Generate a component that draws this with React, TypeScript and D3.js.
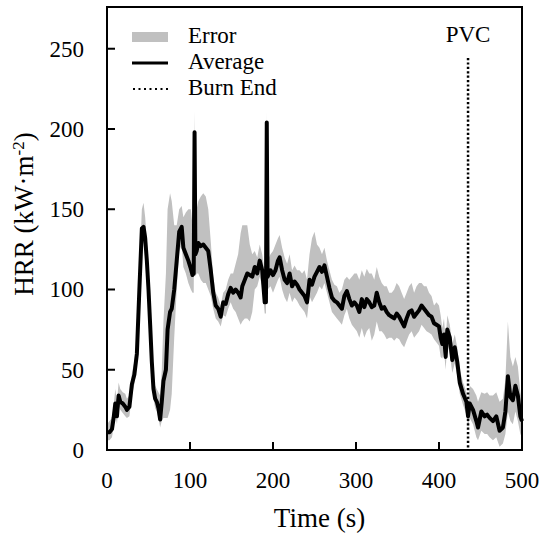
import React from "react";
import * as d3 from "d3";

const times = [0,3,6,8,10,12,14,16,19,22,24,27,30,33,36,39,42,44,46,48,50,52,54,56,58,60,62,64,66,68,71,73,76,78,81,84,87,90,92,95,98,101,103,104.5,105.5,106.5,108,110,113,116,119,122,125,128,131,134,137,140,143,146,149,152,155,158,161,163,166,169,172,175,178,181,184,187,190,191.5,192.5,193.5,197,200,203,206,208,211,214,217,220,223,226,229,232,235,238,241,244,247,250,253,256,259,262,265,268,271,274,277,280,283,286,289,292,295,298,301,304,307,310,313,316,319,322,325,328,331,334,337,340,343,346,349,352,355,358,361,364,367,370,373,376,379,382,385,388,391,394,397,400,402,404,406,408,410,413,416,419,422,425,429,433,435,437,441,445,447,451,455,458,461,465,469,473,477,480,483,486,489,492,495,498,500];
const average = [11,11,13,20,29,21,34,30,29,27,25,27,41,47,60,100,138,139,132,118,100,78,55,38,32,30,26,19,30,43,50,75,86,88,100,118,136,139,126,122,118,113,109,110,198,122,124,129,127,128,126,124,112,98,90,88,83,92,91,97,101,98,100,98,95,102,106,110,109,108,114,110,118,112,92,92,204,108,112,109,112,118,120,112,106,104,110,102,105,103,100,98,96,92,106,103,108,111,114,111,115,108,101,95,93,92,90,88,96,99,94,90,92,90,86,94,89,94,92,89,90,98,92,88,89,86,84,83,82,85,83,80,77,82,86,87,83,85,87,90,88,86,84,83,79,78,77,70,66,72,58,75,70,56,64,55,42,35,30,21,29,25,18,14,24,21,22,20,18,21,12,14,24,46,33,31,40,34,21,18];
const errorLow = [6,6,8,14,22,16,28,25,23,21,20,21,34,41,53,92,130,130,124,110,92,70,48,32,26,24,20,14,18,20,20,20,25,35,70,100,124,128,114,110,104,100,98,98,185,108,110,110,106,104,104,100,96,88,82,80,77,84,83,88,92,88,86,82,78,80,82,82,80,86,100,102,108,102,85,85,195,100,102,98,102,106,108,100,95,92,98,92,95,93,90,88,86,82,96,92,95,98,102,100,104,98,92,86,84,82,80,78,84,88,82,78,76,74,70,76,70,74,76,68,72,80,74,74,72,69,70,70,68,70,69,66,64,68,72,74,70,72,74,78,76,74,73,72,69,67,65,58,57,62,50,66,60,48,54,46,35,28,22,14,20,16,8,6,12,10,10,8,6,8,2,4,10,24,18,16,24,18,10,8];
const errorHigh = [16,18,20,28,38,30,42,38,36,35,32,34,48,55,70,112,150,154,145,130,112,88,64,46,40,38,36,34,50,80,110,150,160,155,140,140,150,152,145,148,150,150,140,140,211,150,150,155,158,160,158,150,130,108,98,95,90,98,100,106,110,110,116,122,135,140,140,140,128,122,124,120,128,122,110,110,211,118,122,124,128,132,134,126,120,116,122,112,115,112,112,110,112,106,122,132,136,128,126,122,126,118,112,106,103,102,98,100,106,108,106,108,110,110,106,112,108,113,110,110,106,114,108,104,102,102,98,98,100,104,102,98,94,98,102,104,98,102,104,104,102,102,98,96,90,92,90,84,76,82,68,84,78,66,72,64,50,42,36,30,40,38,34,30,36,35,36,34,34,36,30,32,44,80,58,52,58,52,36,30];

const xTicks = [0, 100, 200, 300, 400, 500];
const yTicks = [0, 50, 100, 150, 200, 250];
const burnEnd = 435;
const legendItems = ["Error", "Average", "Burn End"];

export default function App() {
  const left = 107, right = 522, top = 7, bottom = 450;
  const x = d3.scaleLinear().domain([0, 500]).range([left, right]);
  const y = d3.scaleLinear().domain([0, 276]).range([bottom, top]);
  const idx = times.map((_, i) => i);
  const area = d3.area<number>()
    .x((i) => x(times[i]))
    .y0((i) => y(errorLow[i]))
    .y1((i) => y(errorHigh[i]));
  const line = d3.line<number>()
    .x((i) => x(times[i]))
    .y((i) => y(average[i]));
  const font = "'Liberation Serif', 'Times New Roman', serif";
  return (
    <svg width={543} height={540} style={{ position: "absolute", left: 0, top: 0 }} fontFamily={font}>
      <path d={area(idx) || ""} fill="#c0c0c0" stroke="none" />
      <path d={line(idx) || ""} fill="none" stroke="#000" strokeWidth={4} strokeLinejoin="round" />
      <line x1={x(burnEnd)} x2={x(burnEnd)} y1={58} y2={bottom} stroke="#000" strokeWidth={2.5} strokeDasharray="2.2 2.2" />
      <text x={x(burnEnd)} y={42} fontSize={23} textAnchor="middle">PVC</text>
      <rect x={left} y={top} width={right - left} height={bottom - top} fill="none" stroke="#000" strokeWidth={2} />
      {xTicks.map((t) => (
        <g key={"x" + t}>
          <line x1={x(t)} x2={x(t)} y1={bottom} y2={bottom - 8} stroke="#000" strokeWidth={2} />
          <text x={x(t)} y={488} fontSize={23} textAnchor="middle">{t}</text>
        </g>
      ))}
      {yTicks.map((t) => (
        <g key={"y" + t}>
          <line x1={left} x2={left + 8} y1={y(t)} y2={y(t)} stroke="#000" strokeWidth={2} />
          <text x={84} y={y(t) + 8} fontSize={23} textAnchor="end">{t}</text>
        </g>
      ))}
      <text x={(left + right) / 2 + 5} y={527} fontSize={27} textAnchor="middle">Time (s)</text>
      <text transform="translate(33,214) rotate(-90)" fontSize={27} textAnchor="middle">
        HRR (kW·m<tspan dy={-9} fontSize={17}>-2</tspan><tspan dy={9}>)</tspan>
      </text>
      <rect x={132} y={32} width={36} height={10} fill="#c0c0c0" />
      <line x1={132} x2={168} y1={63} y2={63} stroke="#000" strokeWidth={3} />
      <line x1={133} x2={168} y1={89} y2={89} stroke="#000" strokeWidth={2} strokeDasharray="2 3.5" />
      {legendItems.map((s, i) => (
        <text key={s} x={188} y={43 + i * 26} fontSize={23}>{s}</text>
      ))}
    </svg>
  );
}
